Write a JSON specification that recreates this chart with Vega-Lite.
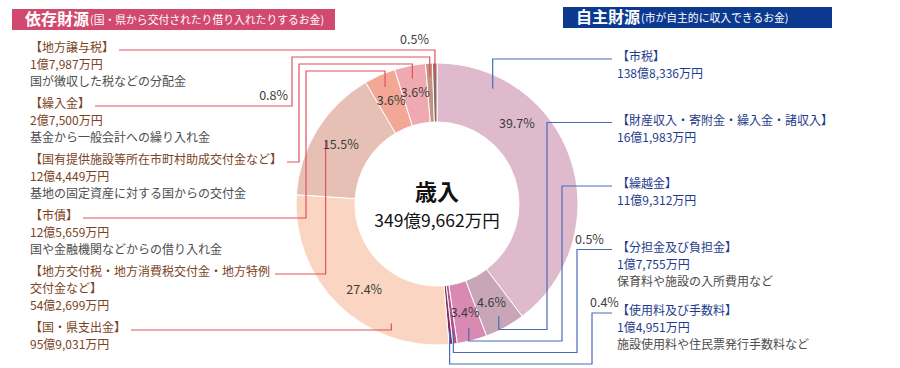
{
  "$schema": "https://vega.github.io/schema/vega-lite/v6.json",
  "width": 900,
  "height": 368,
  "padding": 0,
  "autosize": {"type": "fit", "contains": "padding"},
  "background": "white",
  "config": {"view": {"stroke": null}, "font": "Noto Sans CJK JP", "text": {"font": "Noto Sans CJK JP"}},
  "datasets": {
    "rev": [
      {"order": 1, "name": "市税", "group": "自主財源", "amount": 1388336, "desc": ""},
      {"order": 2, "name": "財産収入・寄附金・繰入金・諸収入", "group": "自主財源", "amount": 161983, "desc": ""},
      {"order": 3, "name": "繰越金", "group": "自主財源", "amount": 119312, "desc": ""},
      {"order": 4, "name": "分担金及び負担金", "group": "自主財源", "amount": 17755, "desc": "保育料や施設の入所費用など"},
      {"order": 5, "name": "使用料及び手数料", "group": "自主財源", "amount": 14951, "desc": "施設使用料や住民票発行手数料など"},
      {"order": 6, "name": "国・県支出金", "group": "依存財源", "amount": 959031, "desc": ""},
      {"order": 7, "name": "地方交付税・地方消費税交付金・地方特例交付金など", "group": "依存財源", "amount": 542699, "desc": ""},
      {"order": 8, "name": "市債", "group": "依存財源", "amount": 125659, "desc": "国や金融機関などからの借り入れ金"},
      {"order": 9, "name": "国有提供施設等所在市町村助成交付金など", "group": "依存財源", "amount": 124449, "desc": "基地の固定資産に対する国からの交付金"},
      {"order": 10, "name": "繰入金", "group": "依存財源", "amount": 27500, "desc": "基金から一般会計への繰り入れ金"},
      {"order": 11, "name": "地方譲与税", "group": "依存財源", "amount": 17987, "desc": "国が徴収した税などの分配金"}
    ],
    "groups": [
      {"group": "依存財源", "note": "(国・県から交付されたり借り入れたりするお金)"},
      {"group": "自主財源", "note": "(市が自主的に収入できるお金)"}
    ]
  },
  "layer": [
    {
      "data": {"name": "groups"},
      "transform": [
        {"calculate": "datum.group === '自主財源'", "as": "r"},
        {"calculate": "datum.r ? 563 : 12", "as": "hx0"},
        {"calculate": "datum.r ? 832 : 335", "as": "hx1"},
        {"calculate": "datum.r ? 7 : 9", "as": "hy0"},
        {"calculate": "datum.r ? 28 : 30", "as": "hy1"},
        {"calculate": "(datum.hy0 + datum.hy1) / 2", "as": "hyc"},
        {"calculate": "datum.hx0 + 13", "as": "tx"},
        {"calculate": "datum.hx0 + 78", "as": "nx"}
      ],
      "layer": [
        {
          "mark": {"type": "rect"},
          "encoding": {
            "x": {"field": "hx0", "type": "quantitative", "scale": {"domain": [0, 900], "nice": false, "zero": false}, "axis": null},
            "x2": {"field": "hx1"},
            "y": {"field": "hy0", "type": "quantitative", "scale": {"domain": [0, 368], "nice": false, "zero": false, "reverse": true}, "axis": null},
            "y2": {"field": "hy1"},
            "color": {"condition": {"test": "datum.r", "value": "#0b3990"}, "value": "#d2496f"}
          }
        },
        {
          "mark": {"type": "text", "align": "left", "baseline": "middle", "fontSize": 16, "fontWeight": "bold", "fill": "white"},
          "encoding": {
            "x": {"field": "tx", "type": "quantitative", "scale": {"domain": [0, 900], "nice": false, "zero": false}, "axis": null},
            "y": {"field": "hyc", "type": "quantitative", "scale": {"domain": [0, 368], "nice": false, "zero": false, "reverse": true}, "axis": null},
            "text": {"field": "group"}
          }
        },
        {
          "mark": {"type": "text", "align": "left", "baseline": "middle", "fontSize": 10.8, "fill": "white", "dy": 1},
          "encoding": {
            "x": {"field": "nx", "type": "quantitative", "scale": {"domain": [0, 900], "nice": false, "zero": false}, "axis": null},
            "y": {"field": "hyc", "type": "quantitative", "scale": {"domain": [0, 368], "nice": false, "zero": false, "reverse": true}, "axis": null},
            "text": {"field": "note"}
          }
        }
      ]
    },
    {
      "data": {"name": "rev"},
      "transform": [
        {"joinaggregate": [{"op": "sum", "field": "amount", "as": "total"}]},
        {"window": [{"op": "sum", "field": "amount", "as": "cum"}], "sort": [{"field": "order"}], "frame": [null, 0]},
        {"calculate": "2 * PI * (datum.cum - datum.amount) / datum.total", "as": "a0"},
        {"calculate": "2 * PI * datum.cum / datum.total", "as": "a1"},
        {"calculate": "datum.group === '自主財源'", "as": "right"},
        {"calculate": "datum.right ? datum.order : -datum.order", "as": "sk"},
        {"window": [{"op": "row_number", "as": "rn"}], "groupby": ["group"], "sort": [{"field": "sk"}]},
        {"calculate": "datum.rn - 1", "as": "k"},
        {"calculate": "format(datum.amount / datum.total, '.1%')", "as": "pct"},
        {"calculate": "floor(datum.amount / 10000) + '億' + format(datum.amount % 10000, ',') + '万円'", "as": "amt"},
        {"calculate": "'【' + datum.name + '】'", "as": "t0"},
        {"calculate": "length(datum.t0) > 22 ? slice(datum.t0, 0, 20) + '\\n' + slice(datum.t0, 20) : datum.t0", "as": "title"},
        {"calculate": "datum.title + '\\n' + datum.amt", "as": "head"},
        {"calculate": "indexof(datum.title, '\\n') >= 0 ? indexof(datum.title, '\\n') : length(datum.title)", "as": "fl"},
        {"calculate": "indexof(datum.title, '\\n') >= 0 ? 3 : 2", "as": "nh"},
        {"calculate": "datum.right ? 59 + 63.5 * datum.k : 50 + 56 * datum.k", "as": "ly"},
        {"calculate": "datum.right ? 617 : 30", "as": "tx"},
        {"calculate": "datum.ly - 7", "as": "ty"},
        {"calculate": "datum.ly - 7 + 17 * datum.nh", "as": "dy"},
        {"calculate": "datum.a0 + min((datum.a1 - datum.a0) / 2, 0.45)", "as": "aa"},
        {"calculate": "437 + 128 * sin(datum.aa)", "as": "ax"},
        {"calculate": "204 - 128 * cos(datum.aa)", "as": "ay"},
        {"calculate": "datum.a0 + min((datum.a1 - datum.a0) / 2, PI / 4)", "as": "la"},
        {"calculate": "437 + 113 * sin(datum.la)", "as": "lx"},
        {"calculate": "204 - 113 * cos(datum.la)", "as": "lyy"},
        {"calculate": "abs(datum.ly - 204) >= 141 ? 0 : sqrt(141 * 141 - (datum.ly - 204) * (datum.ly - 204))", "as": "half"},
        {"calculate": "datum.half === 0 || (datum.right ? datum.ax > 437 + datum.half - 20 : datum.ax < 437 - datum.half + 20)", "as": "direct"},
        {"calculate": "datum.right ? 532 + 15 * datum.k : 285 + 7 * datum.k", "as": "bx"},
        {"calculate": "datum.right ? 318 + 11.5 * datum.k : 50 + 7 * datum.k", "as": "hy"},
        {"calculate": "datum.right ? 612 : 30 + 12 * datum.fl + 5", "as": "xs"},
        {"calculate": "datum.right ? datum.bx - 2 : (datum.direct ? datum.ax - 6 : datum.bx - 4)", "as": "sx"},
        {"calculate": "datum.ly - 10", "as": "sy"}
      ],
      "layer": [
        {
          "mark": {"type": "arc", "outerRadius": 141, "innerRadius": 82, "stroke": "white", "strokeWidth": 1},
          "encoding": {
            "x": {"datum": 437, "type": "quantitative", "scale": {"domain": [0, 900], "nice": false, "zero": false}, "axis": null},
            "y": {"datum": 204, "type": "quantitative", "scale": {"domain": [0, 368], "nice": false, "zero": false, "reverse": true}, "axis": null},
            "theta": {"field": "amount", "type": "quantitative", "stack": true},
            "order": {"field": "order", "type": "quantitative"},
            "color": {
              "field": "name", "type": "nominal", "legend": null,
              "scale": {
                "domain": ["市税", "財産収入・寄附金・繰入金・諸収入", "繰越金", "分担金及び負担金", "使用料及び手数料", "国・県支出金", "地方交付税・地方消費税交付金・地方特例交付金など", "市債", "国有提供施設等所在市町村助成交付金など", "繰入金", "地方譲与税"],
                "range": ["#dfbacd", "#c8a6b8", "#d98ab2", "#b2508e", "#7b2d5e", "#fad5c1", "#e6c0b4", "#f3a896", "#eeaab0", "#c49184", "#8c6a5f"]
              }
            }
          }
        },
        {
          "transform": [
            {"calculate": "datum.direct ? [datum.xs, datum.ax, datum.ax] : [datum.xs, datum.bx, datum.bx, datum.ax, datum.ax]", "as": "px"},
            {"calculate": "datum.direct ? [datum.ly, datum.ly, datum.ay] : [datum.ly, datum.ly, datum.hy, datum.hy, datum.ay]", "as": "py"},
            {"calculate": "datum.direct ? [0, 1, 2] : [0, 1, 2, 3, 4]", "as": "pi"},
            {"flatten": ["px", "py", "pi"]}
          ],
          "mark": {"type": "line", "strokeWidth": 1.2, "interpolate": "linear"},
          "encoding": {
            "x": {"field": "px", "type": "quantitative", "scale": {"domain": [0, 900], "nice": false, "zero": false}, "axis": null},
            "y": {"field": "py", "type": "quantitative", "scale": {"domain": [0, 368], "nice": false, "zero": false, "reverse": true}, "axis": null},
            "detail": {"field": "name"},
            "order": {"field": "pi", "type": "quantitative"},
            "color": {"condition": {"test": "datum.right", "value": "#4a6cb8"}, "value": "#e0505f"}
          }
        },
        {
          "transform": [{"filter": "datum.amount / datum.total >= 0.01"}],
          "mark": {"type": "text", "align": "center", "baseline": "middle", "fontSize": 12.5, "fill": "#3c3c3c"},
          "encoding": {
            "x": {"field": "lx", "type": "quantitative", "scale": {"domain": [0, 900], "nice": false, "zero": false}, "axis": null},
            "y": {"field": "lyy", "type": "quantitative", "scale": {"domain": [0, 368], "nice": false, "zero": false, "reverse": true}, "axis": null},
            "text": {"field": "pct"}
          }
        },
        {
          "transform": [{"filter": "datum.amount / datum.total < 0.01 && !datum.right"}],
          "mark": {"type": "text", "align": "right", "baseline": "middle", "fontSize": 12.5, "fill": "#3c3c3c"},
          "encoding": {
            "x": {"field": "sx", "type": "quantitative", "scale": {"domain": [0, 900], "nice": false, "zero": false}, "axis": null},
            "y": {"field": "sy", "type": "quantitative", "scale": {"domain": [0, 368], "nice": false, "zero": false, "reverse": true}, "axis": null},
            "text": {"field": "pct"}
          }
        },
        {
          "transform": [{"filter": "datum.amount / datum.total < 0.01 && datum.right"}],
          "mark": {"type": "text", "align": "left", "baseline": "middle", "fontSize": 12.5, "fill": "#3c3c3c"},
          "encoding": {
            "x": {"field": "sx", "type": "quantitative", "scale": {"domain": [0, 900], "nice": false, "zero": false}, "axis": null},
            "y": {"field": "sy", "type": "quantitative", "scale": {"domain": [0, 368], "nice": false, "zero": false, "reverse": true}, "axis": null},
            "text": {"field": "pct"}
          }
        },
        {
          "mark": {"type": "text", "align": "left", "baseline": "top", "fontSize": 12, "lineBreak": "\n", "lineHeight": 17},
          "encoding": {
            "x": {"field": "tx", "type": "quantitative", "scale": {"domain": [0, 900], "nice": false, "zero": false}, "axis": null},
            "y": {"field": "ty", "type": "quantitative", "scale": {"domain": [0, 368], "nice": false, "zero": false, "reverse": true}, "axis": null},
            "text": {"field": "head"},
            "color": {"condition": {"test": "datum.right", "value": "#1e3c8c"}, "value": "#7a4322"}
          }
        },
        {
          "transform": [{"filter": "datum.desc !== ''"}],
          "mark": {"type": "text", "align": "left", "baseline": "top", "fontSize": 12, "fill": "#4d4d4d"},
          "encoding": {
            "x": {"field": "tx", "type": "quantitative", "scale": {"domain": [0, 900], "nice": false, "zero": false}, "axis": null},
            "y": {"field": "dy", "type": "quantitative", "scale": {"domain": [0, 368], "nice": false, "zero": false, "reverse": true}, "axis": null},
            "text": {"field": "desc"}
          }
        },
        {
          "transform": [
            {"aggregate": [{"op": "sum", "field": "amount", "as": "tot"}]},
            {"calculate": "'歳入'", "as": "lab"},
            {"calculate": "437", "as": "cx"},
            {"calculate": "193", "as": "cy"}
          ],
          "mark": {"type": "text", "align": "center", "baseline": "middle", "fontSize": 22, "fontWeight": "bold", "fill": "#111111"},
          "encoding": {
            "x": {"field": "cx", "type": "quantitative", "scale": {"domain": [0, 900], "nice": false, "zero": false}, "axis": null},
            "y": {"field": "cy", "type": "quantitative", "scale": {"domain": [0, 368], "nice": false, "zero": false, "reverse": true}, "axis": null},
            "text": {"field": "lab"}
          }
        },
        {
          "transform": [
            {"aggregate": [{"op": "sum", "field": "amount", "as": "tot"}]},
            {"calculate": "floor(datum.tot / 10000) + '億' + format(datum.tot % 10000, ',') + '万円'", "as": "lab"},
            {"calculate": "437", "as": "cx"},
            {"calculate": "222", "as": "cy"}
          ],
          "mark": {"type": "text", "align": "center", "baseline": "middle", "fontSize": 17.5, "fill": "#111111"},
          "encoding": {
            "x": {"field": "cx", "type": "quantitative", "scale": {"domain": [0, 900], "nice": false, "zero": false}, "axis": null},
            "y": {"field": "cy", "type": "quantitative", "scale": {"domain": [0, 368], "nice": false, "zero": false, "reverse": true}, "axis": null},
            "text": {"field": "lab"}
          }
        }
      ]
    }
  ]
}
